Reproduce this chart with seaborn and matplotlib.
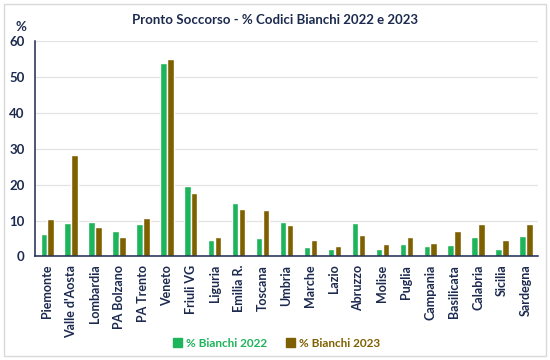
import numpy as np
import pandas as pd
import matplotlib
matplotlib.use('Agg')
import matplotlib.pyplot as plt
import seaborn as sns
from matplotlib.patches import Rectangle

regioni = ["Piemonte", "Valle d'Aosta", "Lombardia", "PA Bolzano", "PA Trento",
           "Veneto", "Friuli VG", "Liguria", "Emilia R.", "Toscana", "Umbria",
           "Marche", "Lazio", "Abruzzo", "Molise", "Puglia", "Campania",
           "Basilicata", "Calabria", "Sicilia", "Sardegna"]
bianchi_2022 = [6.3, 9.3, 9.7, 7.2, 9.1, 53.9, 19.6, 4.6, 15.0, 5.2, 9.6,
                2.7, 2.0, 9.3, 2.0, 3.4, 2.8, 3.1, 5.3, 2.0, 5.8]
bianchi_2023 = [10.5, 28.4, 8.3, 5.3, 10.8, 55.1, 17.6, 5.3, 13.2, 13.0, 8.8,
                4.5, 2.8, 6.0, 3.3, 5.3, 3.6, 7.0, 9.0, 4.5, 9.0]
serie = ["% Bianchi 2022", "% Bianchi 2023"]
colori = ["#1db45a", "#7f6000"]
navy = "#1c2a4f"

df = pd.DataFrame({
    "Regione": regioni * 2,
    "Valore": bianchi_2022 + bianchi_2023,
    "Serie": [serie[0]] * len(regioni) + [serie[1]] * len(regioni),
})

sns.set_style("white")
plt.rcParams['font.family'] = ['Lato', 'DejaVu Sans']

fig = plt.figure(figsize=(5.5, 3.6), dpi=100)
ax = fig.add_axes([0.064, 0.288, 0.914, 0.597])

sns.barplot(data=df, x="Regione", y="Valore", hue="Serie", palette=colori,
            width=0.58, gap=0.08, ax=ax, legend=False, saturation=1)

ax.set_ylim(0, 60)
ax.set_xlim(-0.5, len(regioni) - 0.5)
ax.set_yticks(range(0, 61, 10))
ax.yaxis.grid(True, color="#e3e3e3", lw=0.9)
ax.set_axisbelow(True)
ax.set_xlabel("")
ax.set_ylabel("")
for s in ["top", "right"]:
    ax.spines[s].set_visible(False)
for s in ["left", "bottom"]:
    ax.spines[s].set_color(navy)
    ax.spines[s].set_linewidth(1.1)

ax.set_xticks(range(len(regioni)))
ax.set_xticklabels(regioni, rotation=90, fontsize=9, fontweight="bold", color=navy)
ax.set_xticks(np.arange(-0.5, len(regioni), 1), minor=True)
ax.tick_params(axis="x", which="major", length=0, pad=6)
ax.tick_params(axis="x", which="minor", length=4, width=1, color=navy, direction="out")
ax.tick_params(axis="y", length=4, width=1, color=navy, labelsize=9.5, labelcolor=navy)
for t in ax.get_yticklabels():
    t.set_fontweight("bold")

fig.text(0.5, 0.944, "Pronto Soccorso - % Codici Bianchi 2022 e 2023", ha="center",
         va="center", fontsize=9.5, fontweight="bold", color=navy)
fig.text(0.038, 0.925, "%", ha="center", va="center", fontsize=9.5,
         fontweight="bold", color=navy)

handles = [Rectangle((0, 0), 1, 1, color=c) for c in colori]
leg = fig.legend(handles, serie, loc="center", bbox_to_anchor=(0.502, 0.047), ncol=2,
                 frameon=False, handlelength=0.8, handleheight=0.8,
                 handletextpad=0.3, columnspacing=1.6,
                 prop={"size": 8.5, "weight": "bold"})
for t, c in zip(leg.get_texts(), colori):
    t.set_color(c)

fig.patches.append(Rectangle((0.008, 0.012), 0.984, 0.976, transform=fig.transFigure,
                             fill=False, edgecolor="#d9d9d9", lw=1))

fig.savefig("out.png", dpi=100)
